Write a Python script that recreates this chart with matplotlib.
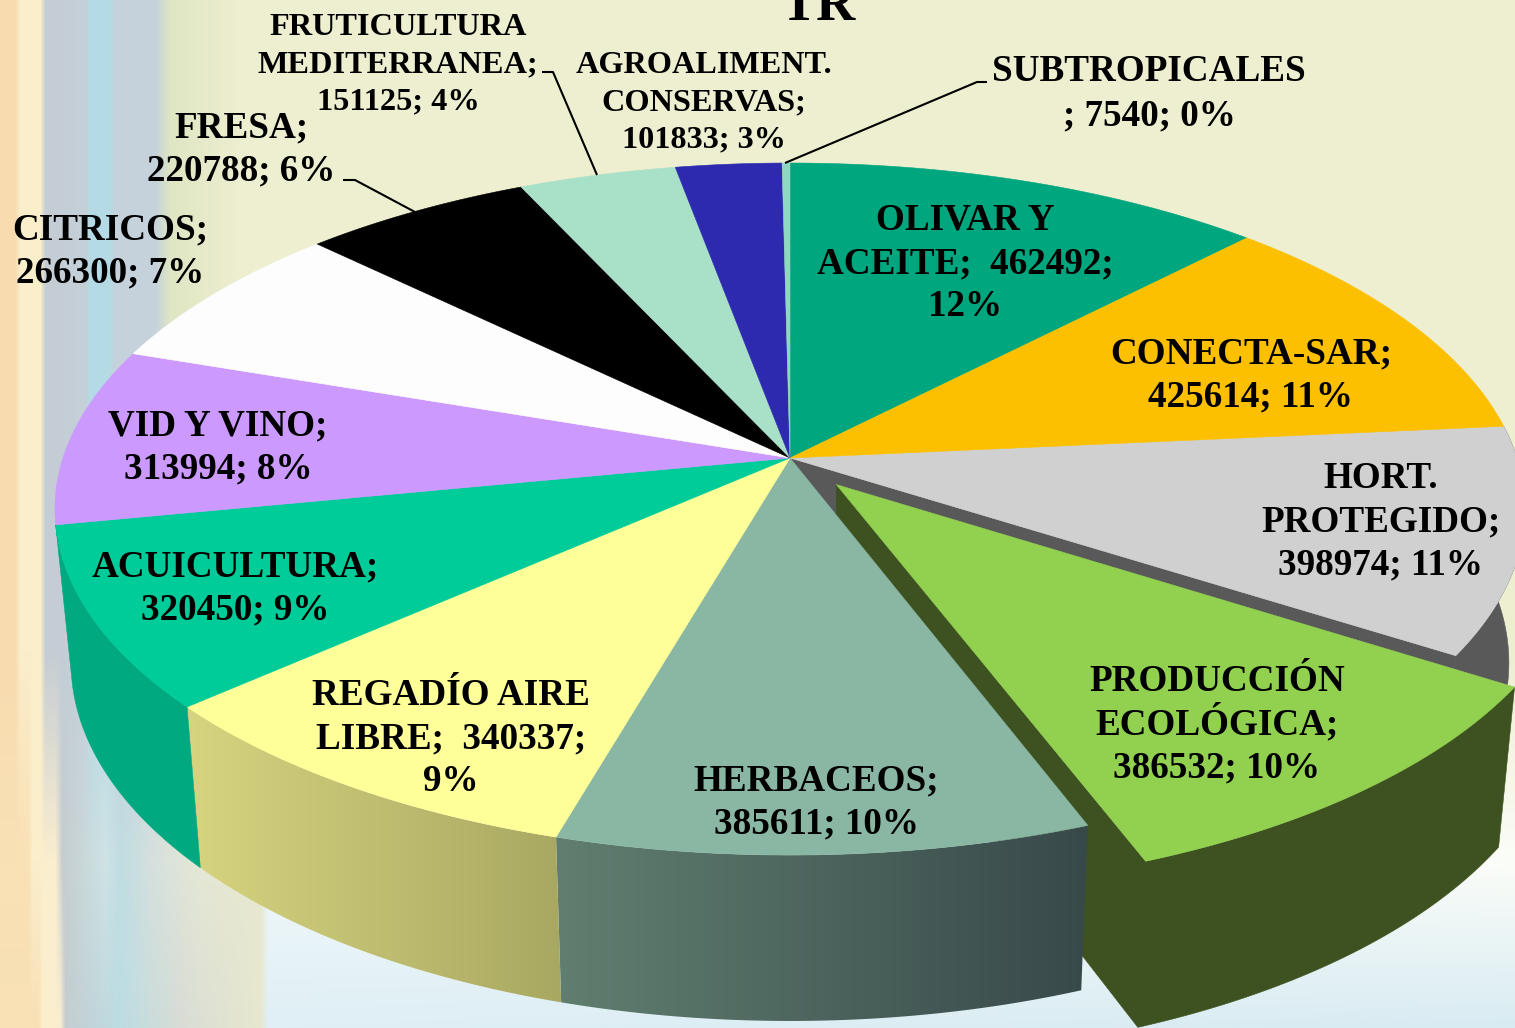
import numpy as np
import matplotlib
matplotlib.use("Agg")
import matplotlib.pyplot as plt
from matplotlib.colors import to_rgb
from matplotlib.patches import Polygon

W, H = 1515, 1028

names = ["OLIVAR Y\nACEITE;  462492;\n12%", "CONECTA-SAR;\n425614; 11%",
         "HORT.\nPROTEGIDO;\n398974; 11%", "PRODUCCIÓN\nECOLÓGICA;\n386532; 10%",
         "HERBACEOS;\n385611; 10%", "REGADÍO AIRE\nLIBRE;  340337;\n9%",
         "ACUICULTURA;\n320450; 9%", "VID Y VINO;\n313994; 8%",
         "CITRICOS;\n266300; 7%", "FRESA;\n220788; 6%",
         "FRUTICULTURA\nMEDITERRANEA;\n151125; 4%", "AGROALIMENT.\nCONSERVAS;\n101833; 3%",
         "SUBTROPICALES\n; 7540; 0%"]
values = [462492, 425614, 398974, 386532, 385611, 340337, 320450, 313994, 266300, 220788, 151125, 101833, 7540]
top_colors = ["#00a67d", "#fdc000", "#d0d0d0", "#92d050", "#8ab6a4", "#ffff99", "#00cc99",
              "#cc99ff", "#fdfdfd", "#000000", "#a8e0c8", "#2e2ab0", "#8fd8c0"]
# side wall colours, (left, right) of the gradient; None = wall not visible
side_colors = [None, None, ("#595959", "#595959"), ("#3d5220", "#3d5220"), ("#607f70", "#38494a"),
               ("#d6d47f", "#a9a862"), ("#00a97f", "#00a97f"), None, None, None, None, None, None]
exploded = 3

# label centre x, first baseline y, line step
label_x = [965, 1251, 1381, 1217, 816, 451, 235, 218, 110, 241, 398, 704, 1149]
label_y = [230, 363, 488, 691, 790, 705, 576, 435, 239, 137, 35, 73, 81]
label_step = [43, 43, 43, 43, 43, 43, 43, 43, 43, 43, 37, 37, 44]
label_size = [26.7, 26.7, 26.7, 26.7, 26.7, 26.7, 26.7, 26.7, 26.7, 26.7, 23.3, 23.2, 26.7]

leaders = [([343, 355, 415], [180, 180, 212]),
           ([542, 553, 597], [72, 72, 175]),
           ([987, 977, 785], [82, 82, 163])]

# pie geometry in pixels
cx, cy = 790, 458
ax_a, ax_b, persp = 727, 338.5, 0.1475
explode = 0.1
shrink = 0.978

# background colour profiles
bg_rows = [0, 650, 860, 1028]
bg_top_x = [0, 15, 20, 40, 45, 85, 90, 108, 115, 155, 170, 185, 240, 1515]
bg_top_c = ["#f8dcb0", "#f8dcb0", "#fbeecb", "#fbeecb", "#c4ccd4", "#c4d0d8", "#b4dbe5", "#b4dbe5",
            "#c5d2dc", "#c5d2dc", "#dfe6c4", "#e2e8c6", "#eeeed0", "#eeeed0"]
bg_mid_x = [0, 28, 32, 55, 62, 105, 120, 150, 200, 260, 268, 1515]
bg_mid_c = ["#f9e0b5", "#f9e0b5", "#fbeecb", "#fbeed0", "#c5cdd0", "#cfe3e4", "#c0dde2", "#d5e0de",
            "#e5e8d5", "#e8e8cf", "#f0f8fa", "#fbfdf8"]
bg_bot_x = [0, 38, 42, 60, 65, 120, 180, 260, 268, 1515]
bg_bot_c = ["#f9e0b5", "#f9e0b5", "#fbeecb", "#fbeed0", "#c5cdd0", "#bcdde3", "#d8dcd5", "#e8e8cf",
            "#dfeff5", "#d8ebf2"]


def project(u, v):
    d = 1 + persp * v
    return cx + ax_a * u / d, cy - ax_b * v / d


def drop(x, y):
    # bottom rim of the wall under a point on the top face
    return cx + (x - cx) * shrink, y + 152 + 0.035 * (y - cy)


def profile(xs, colors):
    rgb = np.array([to_rgb(c) for c in colors])
    return np.column_stack([np.interp(np.arange(W), xs, rgb[:, i]) for i in range(3)])


def background():
    top = profile(bg_top_x, bg_top_c)
    mid = profile(bg_mid_x, bg_mid_c)
    bot = profile(bg_bot_x, bg_bot_c)
    img = np.zeros((H, W, 3))
    for y in range(H):
        if y < bg_rows[1]:
            img[y] = top
        elif y < bg_rows[2]:
            t = (y - bg_rows[1]) / (bg_rows[2] - bg_rows[1])
            img[y] = top * (1 - t) + mid * t
        else:
            t = (y - bg_rows[2]) / (bg_rows[3] - bg_rows[2])
            img[y] = mid * (1 - t) + bot * t
    return img


def wedge_outline(a0, a1, off=0.0):
    mid = (a0 + a1) / 2
    ou, ov = off * np.sin(mid), off * np.cos(mid)
    t = np.linspace(a0, a1, 80)
    x, y = project(np.sin(t) + ou, np.cos(t) + ov)
    ax0, ay0 = project(ou, ov)
    return x, y, ax0, ay0


def fill(ax, xs, ys, color, z):
    ax.add_patch(Polygon(np.column_stack([xs, ys]), closed=True, facecolor=color,
                         edgecolor=color, linewidth=0.4, zorder=z))


def wall(ax, xs, ys, colors, z):
    left, right = to_rgb(colors[0]), to_rgb(colors[1])
    if colors[0] == colors[1]:
        fill(ax, xs, ys, colors[0], z)
        return
    grad = np.linspace(left, right, 256)[np.newaxis, :, :]
    im = ax.imshow(grad, extent=(min(xs), max(xs), max(ys), min(ys)), aspect="auto", zorder=z)
    clip = Polygon(np.column_stack([xs, ys]), closed=True, transform=ax.transData)
    im.set_clip_path(clip)


fig = plt.figure(figsize=(W / 100, H / 100), dpi=100)
ax = fig.add_axes([0, 0, 1, 1])
ax.imshow(background(), extent=(0, W, H, 0), aspect="auto", zorder=0)

fractions = np.array(values) / sum(values)
edges = np.concatenate([[0], np.cumsum(fractions)]) * 2 * np.pi

draw_order = [2, exploded, 0, 1, 4, 5, 6, 7, 8, 9, 10, 11, 12]
z = 1
for i in draw_order:
    a0, a1 = edges[i], edges[i + 1]
    off = explode if i == exploded else 0.0
    x, y, px, py = wedge_outline(a0, a1, off)
    bx, by = drop(x, y)
    pbx, pby = drop(px, py)
    if i == exploded:
        # outer wall and cut face as one shape, so no seam shows between them
        fill(ax, np.r_[px, x[::-1], bx, pbx], np.r_[py, y[::-1], by, pby], side_colors[i][0], z)
        z += 1
    elif side_colors[i] is not None:
        wall(ax, np.concatenate([x, bx[::-1]]), np.concatenate([y, by[::-1]]), side_colors[i], z)
        z += 1
    # top face
    fill(ax, np.r_[px, x], np.r_[py, y], top_colors[i], z + 1)
    if i == 2:
        # cut face along the end of the slice, seen through the gap
        fill(ax, [px, x[-1], bx[-1], pbx], [py, y[-1], by[-1], pby], side_colors[i][0], z)
    z += 2

for (lx, ly) in leaders:
    ax.plot(lx, ly, color="black", lw=1.5, zorder=50, solid_capstyle="butt")

for name, lx, ly, step, size in zip(names, label_x, label_y, label_step, label_size):
    for k, line in enumerate(name.split("\n")):
        ax.text(lx, ly + k * step, line, ha="center", va="baseline", fontsize=size,
                family="Liberation Serif", weight="bold", color="black", zorder=60)

ax.text(818, 20, "TR", ha="center", va="baseline", fontsize=39, family="Liberation Serif",
        weight="bold", color="black", zorder=60)

ax.set_xlim(0, W)
ax.set_ylim(H, 0)
ax.axis("off")
fig.savefig("out.png", dpi=100)
